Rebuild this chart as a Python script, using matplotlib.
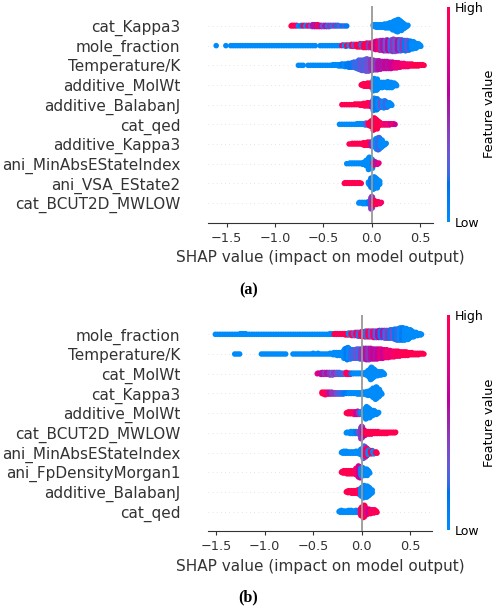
import numpy as np
import matplotlib
matplotlib.use("Agg")
import matplotlib.pyplot as plt
from matplotlib.colors import LinearSegmentedColormap, Normalize
import matplotlib.colorbar as mcolorbar

# ---------------- DATA ----------------
# Each feature: start = SHAP value of first bin, bins every STEP;
# *_n = number of samples in each bin, *_c = feature value of the bin (0 = low .. 9 = high)
STEP = 0.025

# ---- panel (a) ----
feats_a = ["cat_Kappa3", "mole_fraction", "Temperature/K", "additive_MolWt",
           "additive_BalabanJ", "cat_qed", "additive_Kappa3",
           "ani_MinAbsEStateIndex", "ani_VSA_EState2", "cat_BCUT2D_MWLOW"]
starts_a = [-0.825, -1.6, -0.75, -0.1, -0.3, -0.325, -0.225, -0.25, -0.275, -0.125]

a_cat_kappa3_n = [2, 2, 2, 1, 2, 2, 2, 2, 3, 4, 4, 4, 3, 3, 3, 3, 2, 2, 2, 2, 1, 1, 1, 1,
                  0, 0, 0, 0, 0, 0, 0, 0, 0, 0,
                  4, 5, 5, 5, 6, 7, 8, 10, 14, 18, 20, 16, 10, 5, 2]
a_cat_kappa3_c = [9, 9, 8, 0, 1, 9, 0, 8, 3, 5, 5, 9, 5, 3, 5, 2, 4, 2, 4, 1, 3, 1, 2, 1,
                  0, 0, 0, 0, 0, 0, 0, 0, 0, 0,
                  0, 0, 0, 0, 0, 0, 0, 0, 0, 0, 0, 0, 0, 0, 0]

a_mole_fraction_n = ([1, 0, 0, 0, 1, 0] + [1] * 36 + [0] + [1] * 9 +
                     [2, 3, 2, 3, 4, 4, 5, 6, 6, 7, 8, 8, 9,
                      12, 14, 15, 16, 17, 18, 17, 18, 20, 19, 18, 18, 16, 17, 16, 14, 12, 9, 6, 3])
a_mole_fraction_c = ([0] * 52 +
                     [8, 0, 9, 0, 9, 3, 9, 9, 2, 9, 9, 4, 7,
                      9, 6, 8, 4, 5, 3, 6, 2, 4, 3, 5, 2, 4, 1, 3, 1, 0, 0, 0, 0])

a_temperature_n = ([1, 1, 1, 0, 1] + [1] * 9 +
                   [2, 2, 3, 3, 4, 5, 6, 7, 8, 10, 12, 16, 17, 18, 20, 19, 17, 16, 15, 14,
                    13, 12, 12, 11, 11, 10, 9, 8, 7, 6, 5, 5, 4, 4, 3, 3, 2, 2, 1])
a_temperature_c = ([0] * 14 +
                   [0, 0, 0, 0, 1, 0, 1, 1, 1, 2, 2, 2, 3, 2, 3, 3, 4, 4, 4, 5,
                    5, 5, 6, 5, 6, 6, 7, 7, 7, 8, 8, 8, 8, 9, 9, 9, 9, 9, 9])

a_add_molwt_n = [3, 5, 6, 6, 7, 20, 18, 10, 9, 8, 9, 10, 9, 6, 3]
a_add_molwt_c = [9, 9, 9, 9, 9, 0, 0, 0, 0, 0, 0, 0, 0, 0, 0]

a_add_balabanj_n = [1, 1, 1, 1, 1, 2, 2, 3, 3, 5, 6, 6, 8, 20, 18, 12, 10, 12, 10, 6, 3]
a_add_balabanj_c = [9, 9, 9, 9, 9, 9, 9, 9, 9, 9, 9, 9, 7, 0, 1, 0, 3, 0, 2, 0, 0]

a_cat_qed_n = [1, 1, 1, 1, 1, 1, 1, 2, 2, 2, 3, 4, 6, 10, 20, 16, 8, 4, 3, 3, 3, 2, 2, 1]
a_cat_qed_c = [0, 0, 0, 0, 0, 0, 0, 0, 0, 0, 0, 3, 9, 9, 9, 9, 9, 9, 8, 7, 8, 6, 8, 6]

a_add_kappa3_n = [1, 2, 2, 2, 2, 3, 5, 6, 6, 7, 10, 18, 20, 12, 5, 2]
a_add_kappa3_c = [9, 9, 9, 9, 9, 9, 9, 9, 9, 5, 0, 0, 2, 0, 0, 0]

a_ani_minabs_n = [1, 2, 2, 2, 2, 2, 3, 4, 10, 20, 16, 6, 4, 2]
a_ani_minabs_c = [0, 0, 0, 0, 0, 0, 0, 0, 0, 0, 0, 8, 5, 7]

a_ani_vsa_n = [2, 2, 2, 2, 2, 2, 2, 1, 0, 0, 6, 16, 20, 16, 8]
a_ani_vsa_c = [9, 9, 9, 9, 9, 9, 9, 9, 0, 0, 0, 1, 0, 0, 0]

a_bcut_n = [2, 3, 3, 3, 4, 20, 8, 5, 4, 2]
a_bcut_c = [0, 0, 0, 0, 1, 4, 9, 9, 9, 8]

# ---- panel (b) ----
feats_b = ["mole_fraction", "Temperature/K", "cat_MolWt", "cat_Kappa3",
           "additive_MolWt", "cat_BCUT2D_MWLOW", "ani_MinAbsEStateIndex",
           "ani_FpDensityMorgan1", "additive_BalabanJ", "cat_qed"]
starts_b = [-1.5, -1.3, -0.45, -0.4, -0.15, -0.15, -0.2, -0.2, -0.15, -0.225]

b_mole_fraction_n = ([1] * 10 + [2, 2, 2] + [1] * 34 + [2, 2] +
                     [2, 2, 2, 2, 3, 3, 4, 5, 6, 6, 7, 8, 9, 10, 10, 10, 11, 11, 12, 12,
                      12, 13, 13, 14, 15, 17, 19, 20, 20, 19, 17, 14, 10, 7, 5, 3, 1])
b_mole_fraction_c = ([0] * 49 +
                     [9, 9, 8, 9, 9, 9, 0, 9, 3, 9, 2, 8, 9, 2, 9, 3, 8, 2, 6, 1,
                      5, 2, 4, 1, 3, 1, 2, 0, 1, 0, 0, 0, 0, 0, 0, 0, 0])

b_temperature_n = ([1, 1, 1] + [0] * 8 + [1] * 11 + [0, 0] +
                   [1, 1, 1, 1, 1, 1, 1, 1, 2, 1, 2, 1, 1, 1, 1] +
                   [2, 3, 4, 5, 5, 6, 14, 18, 16, 13, 13, 14, 15, 15, 16, 17, 17, 16, 15, 15,
                    14, 14, 13, 12, 11, 10, 9, 8, 8, 7, 6, 6, 5, 4, 4, 3, 3, 2, 2, 1])
b_temperature_c = ([0] * 39 +
                   [0, 0, 0, 0, 0, 0, 0, 1, 0, 2, 2, 3, 2, 4, 4, 5, 4, 5, 6, 5,
                    6, 7, 6, 7, 8, 7, 8, 8, 9, 8, 9, 9, 9, 9, 9, 9, 9, 9, 9, 9])

b_cat_molwt_n = [2, 3, 4, 4, 4, 5, 5, 4, 4, 4, 3, 3, 4, 3, 2, 2, 2, 2, 2, 3, 6, 12, 20, 14, 8, 7, 6, 3]
b_cat_molwt_c = [7, 6, 5, 4, 5, 4, 3, 4, 3, 2, 2, 3, 9, 8, 1, 0, 0, 0, 0, 0, 0, 0, 0, 0, 0, 0, 0, 0]

b_cat_kappa3_n = [4, 5, 4, 4, 4, 3, 3, 3, 3, 2, 2, 2, 2, 2, 3, 3, 3, 4, 6, 7, 10, 16, 20, 12, 4]
b_cat_kappa3_c = [9, 9, 8, 5, 4, 4, 3, 2, 2, 1, 1, 0, 0, 0, 0, 0, 0, 0, 0, 0, 0, 0, 0, 0, 0]

b_add_molwt_n = [3, 4, 4, 5, 6, 5, 6, 12, 20, 16, 10, 8, 5, 2]
b_add_molwt_c = [9, 9, 9, 8, 6, 4, 0, 0, 0, 0, 0, 0, 0, 0]

b_bcut_n = [2, 3, 4, 4, 4, 6, 20, 10, 5, 5, 5, 4, 4, 4, 3, 3, 3, 2, 2, 2, 2]
b_bcut_c = [0, 0, 0, 0, 1, 3, 4, 6, 9, 9, 9, 9, 9, 9, 9, 9, 9, 9, 9, 9, 9]

b_ani_minabs_n = [3, 4, 4, 3, 3, 3, 4, 5, 10, 20, 14, 8, 6, 5, 3]
b_ani_minabs_c = [0, 0, 0, 0, 0, 0, 0, 0, 0, 2, 8, 0, 9, 0, 9]

b_fpdensity_n = [3, 4, 5, 5, 5, 6, 10, 16, 12, 10, 9, 4]
b_fpdensity_c = [9, 9, 9, 9, 9, 9, 8, 6, 0, 0, 0, 0]

b_add_balabanj_n = [3, 4, 5, 5, 6, 8, 14, 20, 18, 14, 6]
b_add_balabanj_c = [9, 9, 9, 9, 9, 8, 0, 0, 0, 0, 0]

b_cat_qed_n = [3, 4, 3, 3, 4, 4, 3, 4, 6, 14, 20, 10, 8, 7, 6, 3]
b_cat_qed_c = [0, 0, 0, 0, 0, 0, 0, 0, 2, 9, 9, 8, 6, 9, 8, 9]

counts_a = [a_cat_kappa3_n, a_mole_fraction_n, a_temperature_n, a_add_molwt_n, a_add_balabanj_n,
            a_cat_qed_n, a_add_kappa3_n, a_ani_minabs_n, a_ani_vsa_n, a_bcut_n]
colors_a = [a_cat_kappa3_c, a_mole_fraction_c, a_temperature_c, a_add_molwt_c, a_add_balabanj_c,
            a_cat_qed_c, a_add_kappa3_c, a_ani_minabs_c, a_ani_vsa_c, a_bcut_c]
counts_b = [b_mole_fraction_n, b_temperature_n, b_cat_molwt_n, b_cat_kappa3_n, b_add_molwt_n,
            b_bcut_n, b_ani_minabs_n, b_fpdensity_n, b_add_balabanj_n, b_cat_qed_n]
colors_b = [b_mole_fraction_c, b_temperature_c, b_cat_molwt_c, b_cat_kappa3_c, b_add_molwt_c,
            b_bcut_c, b_ani_minabs_c, b_fpdensity_c, b_add_balabanj_c, b_cat_qed_c]

xticks = [-1.5, -1.0, -0.5, 0.0, 0.5]
xlim_a = (-1.69, 0.631)
xlim_b = (-1.581, 0.728)


# ---------------- colour map (SHAP red_blue, LCH interpolation) ----------------
def lch2rgb(L, C, h):
    a = C * np.cos(h)
    b = C * np.sin(h)
    fy = (L + 16) / 116.0
    fx = fy + a / 500.0
    fz = fy - b / 200.0
    def finv(t):
        return np.where(t > 6 / 29, t ** 3, 3 * (6 / 29) ** 2 * (t - 4 / 29))
    X = 0.95047 * finv(fx)
    Y = 1.0 * finv(fy)
    Z = 1.08883 * finv(fz)
    M = np.array([[3.2406, -1.5372, -0.4986],
                  [-0.9689, 1.8758, 0.0415],
                  [0.0557, -0.2040, 1.0570]])
    lin = M @ np.array([X, Y, Z])
    lin = np.clip(lin, 0, 1)
    rgb = np.where(lin > 0.0031308, 1.055 * lin ** (1 / 2.4) - 0.055, 12.92 * lin)
    return np.clip(rgb, 0, 1)


blue_lch = [54.0, 70.0, 4.6588]
red_lch = [54.0, 90.0, 0.35470565 + 2 * np.pi]
l_mid = 40.0
nsteps = 100
l_vals = list(np.linspace(blue_lch[0], l_mid, nsteps // 2)) + list(np.linspace(l_mid, red_lch[0], nsteps // 2))
c_vals = np.linspace(blue_lch[1], red_lch[1], nsteps)
h_vals = np.linspace(blue_lch[2], red_lch[2], nsteps)
cols = [lch2rgb(l, c, h) for l, c, h in zip(l_vals, c_vals, h_vals)]
cmap = LinearSegmentedColormap.from_list("red_blue", cols)

AX = "#333333"
W, H = 496, 608


def rect(l, t, r, b):
    return [l / W, 1 - b / H, (r - l) / W, (b - t) / H]


fig = plt.figure(figsize=(W / 100, H / 100), dpi=100)
fig.patch.set_facecolor("white")


def beeswarm(ax, names, starts, counts, colors, xlim):
    nf = len(names)
    for i in range(nf):
        pos = nf - 1 - i
        ax.axhline(pos, color="#cccccc", lw=0.5, dashes=(1, 5), zorder=-1)
        xs, ys, cs = [], [], []
        for j, (n, c) in enumerate(zip(counts[i], colors[i])):
            x = starts[i] + j * STEP
            for layer in range(n):
                # small deterministic sub-bin shift (layout only) to avoid visible columns
                xs.append(x + ((layer % 3) - 1) * STEP / 3.0)
                ys.append(np.ceil(layer / 2) * ((layer % 2) * 2 - 1))
                cs.append(c / 9.0)
        ys = np.array(ys, dtype=float)
        ys *= 0.9 * (0.4 / np.max(ys + 1))
        ax.scatter(xs, pos + ys, c=cs, cmap=cmap, vmin=0, vmax=1, s=16,
                   linewidths=0, zorder=3)
    ax.axvline(0, color="#999999", lw=1.3, zorder=5)
    ax.set_xlim(*xlim)
    ax.set_ylim(-1, nf)
    ax.set_yticks(range(nf))
    ax.set_yticklabels(names[::-1], fontsize=11, color=AX)
    ax.set_xticks(xticks)
    ax.set_xticklabels([f"{t:.1f}".replace("-", "\u2212") for t in xticks])
    ax.tick_params("x", labelsize=9.3, color=AX, labelcolor=AX, width=0.8, length=3)
    ax.tick_params("y", length=0, pad=20)
    for s in ("top", "right", "left"):
        ax.spines[s].set_visible(False)
    ax.spines["bottom"].set_color(AX)
    ax.spines["bottom"].set_linewidth(0.8)
    ax.set_xlabel("SHAP value (impact on model output)", fontsize=11, color=AX)


def cbar(cax):
    cb = mcolorbar.ColorbarBase(cax, cmap=cmap, norm=Normalize(0, 1), ticks=[0, 1])
    cb.set_ticklabels(["Low", "High"])
    cb.set_label("Feature value", size=9.3, labelpad=0)
    cb.ax.tick_params(labelsize=9, length=0)
    cb.outline.set_visible(False)


ax_a = fig.add_axes(rect(208.3, 6.3, 432.7, 222.7))
beeswarm(ax_a, feats_a, starts_a, counts_a, colors_a, xlim_a)
cbar(fig.add_axes(rect(446.5, 6.7, 449.5, 221.7)))

ax_b = fig.add_axes(rect(208.3, 314.6, 432.3, 531.4))
beeswarm(ax_b, feats_b, starts_b, counts_b, colors_b, xlim_b)
cbar(fig.add_axes(rect(446.5, 315, 449.5, 530)))

fig.text(248.5 / W, 1 - 290.7 / H, "(a)", ha="center", va="center",
         family="Liberation Serif", weight="bold", size=11.5)
fig.text(248.3 / W, 1 - 597.5 / H, "(b)", ha="center", va="center",
         family="Liberation Serif", weight="bold", size=11.5)

fig.savefig("out.png", dpi=100, facecolor="white")
